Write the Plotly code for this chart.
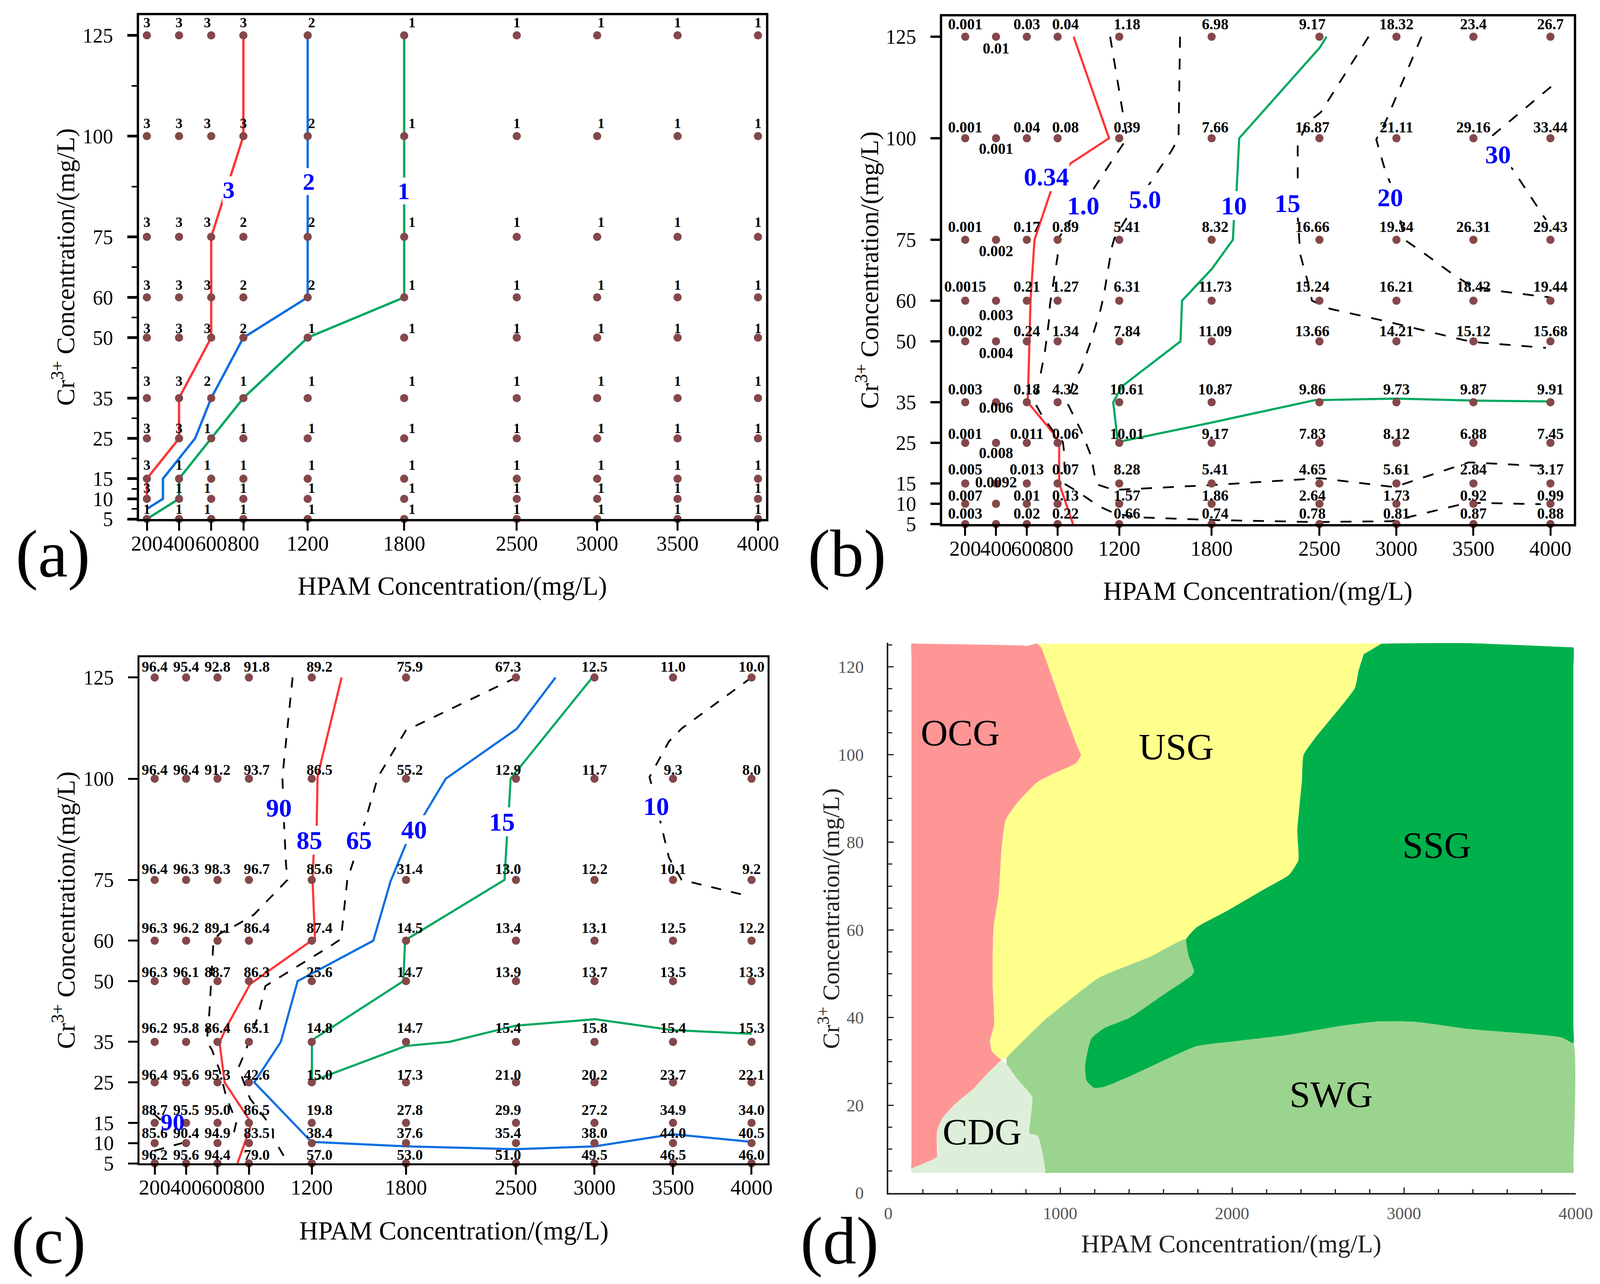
import plotly.graph_objects as go

W, H = 4113, 3288
SERIF = "Liberation Serif"
POINT = "#84484A"
RED, BLUE, GREEN, BLACK = "#FF3535", "#0A6FE0", "#00A860", "#000000"
LABEL = "#0000FF"

# ---------- shared grid ----------
hpam = [200, 400, 600, 800, 1200, 1800, 2500, 3000, 3500, 4000]
cr = [125, 100, 75, 60, 50, 35, 25, 15, 10, 5]
cr_minor = [112.5, 87.5, 67.5, 55, 42.5, 30, 20, 12.5, 7.5]

# ---------- panel a ----------
a_values = [
    ["3", "3", "3", "3", "2", "1", "1", "1", "1", "1"],
    ["3", "3", "3", "3", "2", "1", "1", "1", "1", "1"],
    ["3", "3", "3", "2", "2", "1", "1", "1", "1", "1"],
    ["3", "3", "3", "2", "2", "1", "1", "1", "1", "1"],
    ["3", "3", "3", "2", "1", "1", "1", "1", "1", "1"],
    ["3", "3", "2", "1", "1", "1", "1", "1", "1", "1"],
    ["3", "3", "1", "1", "1", "1", "1", "1", "1", "1"],
    ["3", "1", "1", "1", "1", "1", "1", "1", "1", "1"],
    ["3", "1", "1", "1", "1", "1", "1", "1", "1", "1"],
    ["1", "1", "1", "1", "1", "1", "1", "1", "1", "1"],
]
a3_x = [800, 800, 600, 600, 600, 400, 400, 200, 200]
a3_y = [125, 100, 75, 60, 50, 35, 25, 15, 10]
a2_x = [1200, 1200, 800, 600, 500, 300, 300, 200]
a2_y = [125, 60, 50, 35, 25, 15, 10, 7.5]
a1_x = [1800, 1800, 1200, 800, 600, 400, 400, 200]
a1_y = [125, 60, 50, 35, 25, 15, 10, 5]

# ---------- panel b ----------
b_values = [
    ["0.001", "0.01", "0.03", "0.04", "1.18", "6.98", "9.17", "18.32", "23.4", "26.7"],
    ["0.001", "0.001", "0.04", "0.08", "0.39", "7.66", "16.87", "21.11", "29.16", "33.44"],
    ["0.001", "0.002", "0.17", "0.89", "5.41", "8.32", "16.66", "19.34", "26.31", "29.43"],
    ["0.0015", "0.003", "0.21", "1.27", "6.31", "11.73", "15.24", "16.21", "18.42", "19.44"],
    ["0.002", "0.004", "0.24", "1.34", "7.84", "11.09", "13.66", "14.21", "15.12", "15.68"],
    ["0.003", "0.006", "0.18", "4.32", "10.61", "10.87", "9.86", "9.73", "9.87", "9.91"],
    ["0.001", "0.008", "0.011", "0.06", "10.01", "9.17", "7.83", "8.12", "6.88", "7.45"],
    ["0.005", "0.0092", "0.013", "0.07", "8.28", "5.41", "4.65", "5.61", "2.84", "3.17"],
    ["0.007", "", "0.01", "0.13", "1.57", "1.86", "2.64", "1.73", "0.92", "0.99"],
    ["0.003", "", "0.02", "0.22", "0.66", "0.74", "0.78", "0.81", "0.87", "0.88"],
]
b034_x = [904, 1134, 884, 757, 650, 624, 617, 607, 617, 767, 810, 810, 900]
b034_y = [125, 100, 93.8, 87.1, 75, 60, 50, 36, 34.5, 27.6, 25, 15, 5]
b1_x = [1141, 1251, 1134, 1024, 884, 800, 800, 774, 750, 744, 717, 684, 650, 700, 767, 834, 840, 850,
        934, 1067, 1167, 1301, 1801, 2469, 2970, 3403, 3537, 3938]
b1_y = [125, 100, 93.4, 87, 79.9, 75, 71, 65, 59, 55.2, 47.3, 40.9, 35, 31.6, 28.1, 25.2, 23.4, 14.8,
        12.9, 9.4, 7.7, 6.7, 6, 5.5, 5.7, 9.7, 10.2, 9.9]
b5_x = [1595, 1585, 1585, 1541, 1401, 1268, 1168, 1151, 1124, 1101, 1078, 1018, 951, 901, 867, 951,
        1018, 1051, 1167, 1801, 2502, 2986, 3470, 3938]
b5_y = [125, 103, 100, 97, 89, 81.6, 75.3, 73, 66.8, 61.5, 57.7, 50.2, 43.1, 39.9, 34.5, 28.1,
        21.7, 14.8, 13.4, 14.6, 16.3, 14.1, 20.2, 19.3]
b10_x = [2546, 2502, 1979, 1962, 1945, 1938, 1801, 1608, 1598, 1218, 1161, 1191, 1801, 2469, 3003, 3503, 4000]
b10_y = [125, 122.3, 100, 87, 80, 75, 67.8, 60, 50, 38.9, 35, 25.2, 30, 35.5, 35.9, 35.4, 35.2]
b15_x = [2819, 2509, 2419, 2359, 2359, 2359, 2376, 2419, 2452, 2569, 2936, 3237, 3437, 3537, 3971]
b15_y = [125, 106.4, 103.7, 98.5, 89, 80.6, 71.3, 65.4, 60, 58, 54.9, 52.2, 50.3, 49.7, 48.4]
b20_x = [3163, 2936, 2869, 2919, 2959, 3013, 3053, 3186, 3370, 3470, 3637, 4000]
b20_y = [125, 104.6, 99.7, 93.1, 89, 82, 75, 71.5, 66.4, 64, 62.5, 60.8]
b30_x = [4004, 3687, 3603, 3660, 3754, 3971]
b30_y = [112.7, 102.7, 100, 96, 92.4, 79.9]

# ---------- panel c ----------
c_values = [
    ["96.4", "95.4", "92.8", "91.8", "89.2", "75.9", "67.3", "12.5", "11.0", "10.0"],
    ["96.4", "96.4", "91.2", "93.7", "86.5", "55.2", "12.9", "11.7", "9.3", "8.0"],
    ["96.4", "96.3", "98.3", "96.7", "85.6", "31.4", "13.0", "12.2", "10.1", "9.2"],
    ["96.3", "96.2", "89.1", "86.4", "87.4", "14.5", "13.4", "13.1", "12.5", "12.2"],
    ["96.3", "96.1", "88.7", "86.3", "25.6", "14.7", "13.9", "13.7", "13.5", "13.3"],
    ["96.2", "95.8", "86.4", "65.1", "14.8", "14.7", "15.4", "15.8", "15.4", "15.3"],
    ["96.4", "95.6", "95.3", "42.6", "15.0", "17.3", "21.0", "20.2", "23.7", "22.1"],
    ["88.7", "95.5", "95.0", "86.5", "19.8", "27.8", "29.9", "27.2", "34.9", "34.0"],
    ["85.6", "90.4", "94.9", "83.5", "38.4", "37.6", "35.4", "38.0", "44.0", "40.5"],
    ["96.2", "95.6", "94.4", "79.0", "57.0", "53.0", "51.0", "49.5", "46.5", "46.0"],
]
c90_x = [1078, 1013, 1023, 1036, 1045, 831, 727, 613, 574, 574, 548, 532, 565, 613, 655, 720, 695]
c90_y = [125, 100.4, 89.4, 78.9, 75, 66.4, 64, 61.7, 60, 59.7, 42.2, 35.1, 33, 28, 21.5, 15.2, 11]
c90b_x = [197, 402]
c90b_y = [8.1, 10.3]
c90c_x = [190, 262]
c90c_y = [17.4, 14.9]
c85_x = [1390, 1237, 1231, 1211, 1205, 1221, 1198, 808, 662, 613, 645, 798, 808, 727]
c85_y = [125, 100.6, 88, 80.7, 75, 60, 60, 49.3, 39, 34.9, 25, 16, 13.8, 5]
c65_x = [2502, 1799, 1621, 1540, 1474, 1426, 1386, 1328, 970, 905, 857, 775, 733, 807, 905, 953, 953, 1019, 1052]
c65_y = [125, 111.9, 100.4, 89.6, 80.7, 75, 60.4, 58.9, 50.4, 48.8, 41.2, 32.4, 28.6, 21, 16, 13.3, 11.4, 7, 5.2]
c40_x = [2752, 2505, 2053, 1913, 1800, 1702, 1592, 1110, 1003, 834, 1198, 1799, 2498, 3003, 3500, 4000]
c40_y = [125, 112.3, 100, 90.9, 83.9, 74.7, 60, 50, 35, 25, 10.3, 9.2, 8.5, 9.2, 12.2, 10.3]
c15_x = [2986, 2466, 2456, 2443, 2427, 1816, 1793, 1783, 1201, 1201, 1799, 2076, 2498, 3003, 3500, 4000]
c15_y = [125, 100, 93, 85.9, 75, 60.6, 59, 50, 35.4, 25.3, 34, 35, 39, 40.6, 37.9, 37]
c10_x = [4000, 3555, 3474, 3350, 3370, 3419, 3474, 3555, 3961]
c10_y = [125, 112.4, 109.2, 100.4, 97.5, 89.6, 80.5, 75, 71.2]

# ---------- panel d ----------
ocg_x = [135, 160, 780, 807, 867, 891, 957, 1017, 1106, 1121, 1091, 987, 867, 748, 682, 658, 643, 613, 607, 616,
         592, 604, 658, 583, 493, 389, 314, 284, 284, 284, 135, 135, 135, 135]
ocg_y = [125.3, 125.3, 124.9, 124.8, 125.3, 124.4, 117.2, 110.5, 101.3, 99.9, 98, 96.1, 93.7, 88.9, 85, 77.9,
         68.3, 60.6, 48.1, 38.5, 34.7, 32.3, 30.4, 27.5, 23.7, 20.3, 17, 14.1, 9.5, 8.3, 5.5, 7, 122, 125.3]
usg_x = [867, 1000, 2750, 2870, 2766, 2736, 2715, 2482, 2416, 2407, 2380, 2386, 2332, 2183, 1973, 1794, 1734, 1645,
         1525, 1226, 1047, 897, 688, 658, 604, 592, 616, 607, 613, 643, 658, 682, 748, 867, 987, 1091,
         1121, 1106, 1017, 957, 891]
usg_y = [125.3, 125.3, 125.3, 125.3, 122.9, 119.1, 115.2, 103.7, 99.9, 94.2, 82.6, 75.9, 72.6, 69.2, 64.4, 60.6,
         57.9, 56.3, 53.9, 49.1, 43.8, 39, 30.9, 30.4, 32.3, 34.7, 38.5, 48.1, 60.6, 68.3, 77.9, 85, 88.9, 93.7,
         96.1, 98, 99.9, 101.3, 110.5, 117.2, 124.4]
ssg_x = [2870, 3080, 3379, 3950, 3986, 3986, 3986, 3986, 3917, 3379, 3080, 2841, 2631, 2332, 2033, 1794, 1585, 1405,
         1256, 1196, 1154, 1145, 1181, 1256, 1405, 1585, 1764, 1779, 1749, 1734, 1794, 1973, 2183, 2332, 2386,
         2380, 2407, 2416, 2482, 2715, 2736, 2766]
ssg_y = [125.3, 125.4, 125.4, 124.5, 124.4, 120, 38, 34.2, 35.5, 37.4, 39, 39.1, 38.1, 36.1, 34.7, 33.5, 29.9, 26.6,
         24.2, 24, 25.6, 29, 35.2, 37.6, 40, 44.8, 49.6, 50.5, 53.9, 57.9, 60.6, 64.4, 69.2, 72.6, 75.9,
         82.6, 94.2, 99.9, 103.7, 115.2, 119.1, 122.9]
swg_x = [688, 897, 1047, 1226, 1525, 1734, 1749, 1779, 1764, 1585, 1405, 1256, 1181, 1145, 1154, 1196, 1256,
         1405, 1585, 1794, 2033, 2332, 2631, 2841, 3080, 3379, 3917, 3986, 3986, 3986, 3950, 950, 912, 903, 882,
         867, 822, 837, 748, 688]
swg_y = [30.9, 39, 43.8, 49.1, 53.9, 57.9, 53.9, 50.5, 49.6, 44.8, 40, 37.6, 35.2, 29, 25.6, 24, 24.2,
         26.6, 29.9, 33.5, 34.7, 36.1, 38.1, 39.1, 39, 37.4, 35.5, 34.2, 7, 4.6, 4.6, 4.6, 4.6, 7.9, 11.7,
         13.1, 13.6, 21.8, 26.1, 29.4]
cdg_x = [658, 688, 748, 837, 822, 867, 882, 903, 912, 880, 170, 135, 135, 284, 284, 314, 389, 493, 583]
cdg_y = [30.4, 29.4, 26.1, 21.8, 13.6, 13.1, 11.7, 7.9, 4.6, 4.6, 4.6, 4.6, 5.5, 8.3, 14.1, 17, 20.3, 23.7, 27.5]
region_names = ["OCG", "USG", "SSG", "SWG", "CDG"]
region_x = [419, 1674, 3190, 2577, 547]
region_y = [105, 101.8, 79.3, 22.5, 13.9]

# ---------- layout geometry (pixels of the page) ----------
PANELS = {
    "a": dict(L=356, R=1961, T=39, B=1329, xr=[151.4, 4050], yr=[5, 130], lw=6, ytw=7, xtw=5, lab=36),
    "b": dict(L=2412, R=4029, T=42, B=1342, xr=[50.4, 4152], yr=[5, 130], lw=6, ytw=6, xtw=5, lab=39),
    "c": dict(L=357, R=1965, T=1683, B=2979, xr=[103, 4102], yr=[5, 130], lw=5, ytw=4.5, xtw=4.5, lab=38),
}
D = dict(L=2274, R=4034, T=1646, B=3055, xr=[0, 4000], yr=[0, 125.5])


def dom(p):
    return dict(x=[p["L"] / W, p["R"] / W], y=[1 - p["B"] / H, 1 - p["T"] / H])


def px(x, y):
    return dict(x=x / W, y=1 - y / H, xref="paper", yref="paper", xanchor="center", yanchor="middle")


fig = go.Figure()
annos = []


def line(ax, xs, ys, color, dash=None, width=5.5):
    fig.add_trace(go.Scatter(x=xs, y=ys, mode="lines", xaxis=f"x{ax}", yaxis=f"y{ax}", showlegend=False,
                             hoverinfo="skip", line=dict(color=color, width=width, dash=dash or "solid")))


def grid(ax, p, values, col_dx, row_dy, special=None):
    sx = (p["xr"][1] - p["xr"][0]) / (p["R"] - p["L"])
    sy = (p["yr"][1] - p["yr"][0]) / (p["B"] - p["T"])
    fig.add_trace(go.Scatter(
        x=[x for _ in cr for x in hpam], y=[y for y in cr for _ in hpam], mode="markers",
        xaxis=f"x{ax}", yaxis=f"y{ax}", showlegend=False, cliponaxis=False,
        marker=dict(color=POINT, size=21, line=dict(width=0))))
    tx, ty, tt = [], [], []
    for i, y in enumerate(cr):
        for j, x in enumerate(hpam):
            if not values[i][j]:
                continue
            dy = row_dy[i]
            if special and j in special:
                dy = special[j][i]
            tx.append(x + col_dx[j] * sx)
            ty.append(y + dy * sy)
            tt.append(values[i][j])
    fig.add_trace(go.Scatter(
        x=tx, y=ty, text=tt, mode="text", textposition="middle center", xaxis=f"x{ax}", yaxis=f"y{ax}",
        showlegend=False, cliponaxis=False, hoverinfo="skip",
        textfont=dict(family=SERIF, size=p["lab"], color="#000000", weight="bold")))


def blue(ax, text, x, y, size=66, bg="white"):
    annos.append(dict(x=x, y=y, xref=f"x{ax}", yref=f"y{ax}", text=text, showarrow=False,
                      font=dict(family=SERIF, size=size, color=LABEL, weight="bold"),
                      bgcolor=bg, borderpad=0))


# panel a
line(1, a3_x, a3_y, RED, width=6)
line(1, a2_x, a2_y, BLUE, width=6)
line(1, a1_x, a1_y, GREEN, width=6)
grid(1, PANELS["a"], a_values, [0, 0, -10, 0, 10, 20, 0, 10, 0, 0], [30, 30, 35, 28, 21, 40, 23, 32, 24, 22])
blue(1, "3", 709, 86.7, 62)
blue(1, "2", 1208, 88.7, 62)
blue(1, "1", 1796, 86.4, 62)

# panel b
DASH = "28px,28px"
line(2, b034_x, b034_y, RED)
for xs, ys in [(b1_x, b1_y), (b5_x, b5_y), (b15_x, b15_y), (b20_x, b20_y), (b30_x, b30_y)]:
    line(2, xs, ys, BLACK, DASH, 4.5)
line(2, b10_x, b10_y, GREEN)
grid(2, PANELS["b"], b_values, [0, 0, 0, 20, 20, 9, -18, 0, 0, 0], [29, 25, 30, 33, 23, 30, 20, 33, 18, 24],
     special={1: [-33, -30, -32, -40, -33, -17, -29, 0, 0, 0]})
for t, x, y in [("0.34", 727, 90.5), ("1.0", 967, 83.4), ("5.0", 1368, 85), ("10", 1945, 83.4),
                ("15", 2292, 84), ("20", 2959, 85.4), ("30", 3660, 96)]:
    blue(2, t, x, y)

# panel c
line(3, c85_x, c85_y, RED)
for xs, ys in [(c90_x, c90_y), (c90b_x, c90b_y), (c90c_x, c90c_y), (c65_x, c65_y), (c10_x, c10_y)]:
    line(3, xs, ys, BLACK, "26px,26px", 4.5)
line(3, c40_x, c40_y, BLUE)
line(3, c15_x, c15_y, GREEN)
grid(3, PANELS["c"], c_values, [0, 0, 0, 20, 20, 10, -20, 0, 0, 0], [24, 20, 25, 29, 20, 32, 16, 30, 23, 19])
for t, x, y in [("90", 990, 92.8), ("85", 1185, 84.8), ("65", 1500, 84.8), ("40", 1851, 87.4),
                ("15", 2411, 89.3), ("10", 3392, 93.2)]:
    blue(3, t, x, y)
blue(3, "90", 314, 15.2, 62, "rgba(0,0,0,0)")

# panel d
for xs, ys, col in [(ocg_x, ocg_y, "#FF9696"), (usg_x, usg_y, "#FFFF8C"), (swg_x, swg_y, "#9BD48E"),
                    (cdg_x, cdg_y, "#DEEFD9"), (ssg_x, ssg_y, "#00B04B")]:
    fig.add_trace(go.Scatter(x=xs, y=ys, mode="lines", fill="toself", fillcolor=col, xaxis="x4", yaxis="y4",
                             line=dict(width=0, shape="spline", smoothing=0.5), showlegend=False, hoverinfo="skip"))
for n, x, y in zip(region_names, region_x, region_y):
    annos.append(dict(x=x, y=y, xref="x4", yref="y4", text=n, showarrow=False,
                      font=dict(family=SERIF, size=96, color="black")))

# panel letters
for t, x, y in [("(a)", 135, 1418), ("(b)", 2168, 1417), ("(c)", 124, 3176), ("(d)", 2149, 3177)]:
    annos.append(dict(**px(x, y), text=t, showarrow=False, font=dict(family=SERIF, size=172, color="black")))

XT = "HPAM Concentration/(mg/L)"
YT = "Cr<sup>3+</sup> Concentration/(mg/L)"

# axis titles (centre positions on the page)
for x, y, size, col in [(1158, 1500, 67, "black"), (3220, 1513, 67, "black"), (1162, 3151, 67, "black"),
                        (3152, 3185, 65, "#222222")]:
    annos.append(dict(**px(x, y), text=XT, showarrow=False, font=dict(family=SERIF, size=size, color=col)))
for x, y, size, col in [(163, 684, 66, "black"), (2221, 692, 66, "black"), (164, 2331, 66, "black"),
                        (2122, 2352, 62, "#222222")]:
    annos.append(dict(**px(x, y), text=YT, textangle=-90, showarrow=False,
                      font=dict(family=SERIF, size=size, color=col)))

layout = dict(width=W, height=H, margin=dict(l=0, r=0, t=0, b=0, autoexpand=False), paper_bgcolor="white",
              plot_bgcolor="white", showlegend=False, annotations=annos)

for k, (name, p) in enumerate(PANELS.items(), start=1):
    d = dom(p)
    layout[f"xaxis{k}"] = dict(
        domain=d["x"], range=p["xr"], anchor=f"y{k}", tickmode="array", tickvals=hpam,
        ticktext=[str(v) for v in hpam], tickangle=0, ticks="outside", ticklen=24, tickwidth=p["xtw"],
        tickcolor="black", showline=True, linewidth=p["lw"], linecolor="black", mirror=True, showgrid=False,
        zeroline=False, tickfont=dict(family=SERIF, size=54, color="black"), automargin=False,
        ticklabelstandoff=-14)
    y = dict(
        domain=d["y"], range=p["yr"], anchor=f"x{k}", tickmode="array", tickvals=cr,
        ticktext=[str(v) for v in cr], ticks="outside", ticklen=24, tickwidth=p["ytw"], tickcolor="black",
        showline=True, linewidth=p["lw"], linecolor="black", mirror=True, showgrid=False, zeroline=False,
        tickfont=dict(family=SERIF, size=52, color="black"), automargin=False, ticklabelstandoff=26)
    if name == "a":
        y["minor"] = dict(tickmode="array", tickvals=cr_minor, ticks="outside", ticklen=13, tickwidth=4,
                          tickcolor="black")
    layout[f"yaxis{k}"] = y

d = dom(D)
layout["xaxis4"] = dict(
    domain=d["x"], range=D["xr"], anchor="y4", tickvals=[0, 1000, 2000, 3000, 4000], ticks="inside", ticklen=14,
    tickwidth=3, tickcolor="#222222", showline=True, linewidth=4, linecolor="#222222", showgrid=False,
    zeroline=False, tickangle=0, tickfont=dict(family=SERIF, size=44, color="#555555"), automargin=False,
    ticklabelstandoff=10,
    minor=dict(tickmode="array", tickvals=[v for v in range(200, 4000, 200) if v % 1000], ticks="inside",
               ticklen=10, tickwidth=3, tickcolor="#222222"))
layout["yaxis4"] = dict(
    domain=d["y"], range=D["yr"], anchor="x4", tickvals=[0, 20, 40, 60, 80, 100, 120], ticks="inside", ticklen=14,
    tickwidth=3, tickcolor="#222222", showline=True, linewidth=4, linecolor="#222222", showgrid=False,
    zeroline=False, tickfont=dict(family=SERIF, size=44, color="#555555"), automargin=False,
    ticklabelstandoff=50,
    minor=dict(tickmode="array", tickvals=[v for v in range(5, 126, 5) if v % 20], ticks="inside", ticklen=10,
               tickwidth=3, tickcolor="#222222"))

fig.update_layout(**layout)
fig.write_html("out.html", config={"displayModeBar": False},
               post_script="document.body.style.margin='0';document.body.style.overflow='hidden';")
